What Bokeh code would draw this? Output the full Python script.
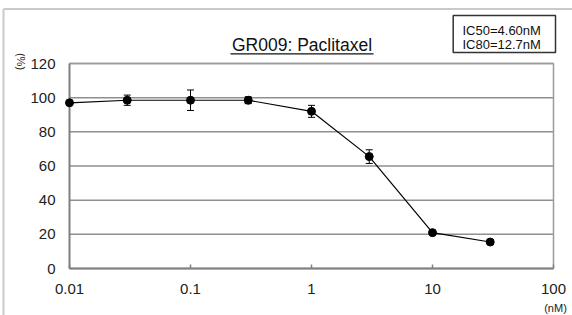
import numpy as np
from bokeh.plotting import figure
from bokeh.models import ColumnDataSource, Whisker, TeeHead, Range1d
from bokeh.embed import file_html
from bokeh.resources import INLINE
from bokeh.core.properties import value

# ---- data ----
concentration_nM = [0.01, 0.03, 0.1, 0.3, 1, 3, 10, 30]
viability_pct = [97, 98.5, 98.5, 98.5, 92, 65.5, 21, 15.5]
viability_err = [0.5, 3, 6, 2, 3.5, 4, 1, 1]
x_ticks = [0.01, 0.1, 1, 10, 100]
x_tick_labels = ["0.01", "0.1", "1", "10", "100"]
y_ticks = [0, 20, 40, 60, 80, 100, 120]
y_tick_labels = ["0", "20", "40", "60", "80", "100", "120"]
title_text = "GR009: Paclitaxel"
ic_lines = ["IC50=4.60nM", "IC80=12.7nM"]
y_unit = "(%)"
x_unit = "(nM)"

# ---- layout (canvas pixels; the canvas sits at the page origin) ----
W, H = 572, 315
X0, X1 = 0.01, 100          # plot-area x extent
Y0, Y1 = 0, 120             # plot-area y extent
PL, PR, PT, PB = 69, 553, 63, 268   # plot-area edges on the canvas
DEC = (PR - PL) / (np.log10(X1) - np.log10(X0))
UNIT = (PB - PT) / (Y1 - Y0)
FONT = "Liberation Sans"


def dx(px):
    return 10 ** (np.log10(X0) + (px - PL) / DEC)


def dy(py):
    return Y0 + (PB - py) / UNIT


p = figure(width=W, height=H, x_axis_type="log", output_backend="svg",
           toolbar_location=None, x_axis_location=None, y_axis_location=None,
           x_range=Range1d(dx(0), dx(W)), y_range=Range1d(dy(H), dy(0)),
           min_border=0)
p.min_border_left = p.min_border_right = p.min_border_top = p.min_border_bottom = 0
p.outline_line_color = None
p.background_fill_color = "white"
p.border_fill_color = "white"
p.grid.visible = False

# outer chart-area border (top and left edges are visible)
p.segment(x0=[dx(3), dx(3)], y0=[dy(8.5), dy(8.5)], x1=[dx(W), dx(3)],
          y1=[dy(8.5), dy(H)], line_color="#cacaca", line_width=2)

# horizontal gridlines
p.segment(x0=[X0] * len(y_ticks), x1=[X1] * len(y_ticks), y0=y_ticks, y1=y_ticks,
          line_color="#8f8f8f", line_width=1.5)
# plot-area border: top / right light, left / bottom axis lines darker
p.segment(x0=[X0, X1], y0=[Y1, Y0], x1=[X1, X1], y1=[Y1, Y1],
          line_color="#9a9a9a", line_width=1.5)
p.segment(x0=[X0, X0], y0=[Y0, Y0], x1=[X0, X1], y1=[Y1, Y0],
          line_color="#808080", line_width=2)
# inward x ticks
p.segment(x0=x_ticks, x1=x_ticks, y0=[Y0] * len(x_ticks),
          y1=[Y0 + 4 / UNIT] * len(x_ticks), line_color="#808080", line_width=1.5)

# tick labels
p.text(x=x_ticks, y=[Y0] * len(x_ticks), text=x_tick_labels, y_offset=20,
       text_align="center", text_baseline="middle", text_font=value(FONT),
       text_font_size="15px", text_color="#222222")
p.text(x=[X0] * len(y_ticks), y=y_ticks, text=y_tick_labels, x_offset=-14,
       text_align="right", text_baseline="middle", text_font=value(FONT),
       text_font_size="15px", text_color="#222222")

# unit labels
p.text(x=[dx(20)], y=[dy(61)], text=[y_unit], angle=-np.pi / 2,
       text_align="center", text_baseline="middle", text_font=value(FONT),
       text_font_size="11px", text_color="#222222")
p.text(x=[dx(555)], y=[dy(307)], text=[x_unit], text_align="center",
       text_baseline="middle", text_font=value(FONT), text_font_size="11px",
       text_color="#222222")

# title with underline
p.text(x=[dx(301.5)], y=[dy(44.5)], text=[title_text], text_align="center",
       text_baseline="middle", text_font=value(FONT), text_font_size="17.5px",
       text_color="#111111")
p.segment(x0=[dx(230)], x1=[dx(373)], y0=[dy(53.3)], y1=[dy(53.3)],
          line_color="#111111", line_width=1.3)

# IC box
p.quad(left=[dx(452.7)], right=[dx(555)], top=[dy(15)], bottom=[dy(52)],
       fill_color="white", line_color="#333333", line_width=1.5)
p.text(x=[dx(462)] * 2, y=[dy(29.5), dy(43.8)], text=ic_lines, text_align="left",
       text_baseline="middle", text_font=value(FONT), text_font_size="13px",
       text_color="#111111")

# data
src = ColumnDataSource(dict(
    x=concentration_nM, y=viability_pct,
    upper=[v + e for v, e in zip(viability_pct, viability_err)],
    lower=[v - e for v, e in zip(viability_pct, viability_err)]))

p.add_layout(Whisker(base="x", upper="upper", lower="lower", source=src,
                     line_color="black", line_width=1,
                     upper_head=TeeHead(size=7, line_color="black", line_width=1),
                     lower_head=TeeHead(size=7, line_color="black", line_width=1)))
p.line("x", "y", source=src, line_color="black", line_width=1.2)
p.scatter("x", "y", source=src, size=8, fill_color="black", line_color="black")

open("out.html", "w").write(file_html(p, INLINE))
